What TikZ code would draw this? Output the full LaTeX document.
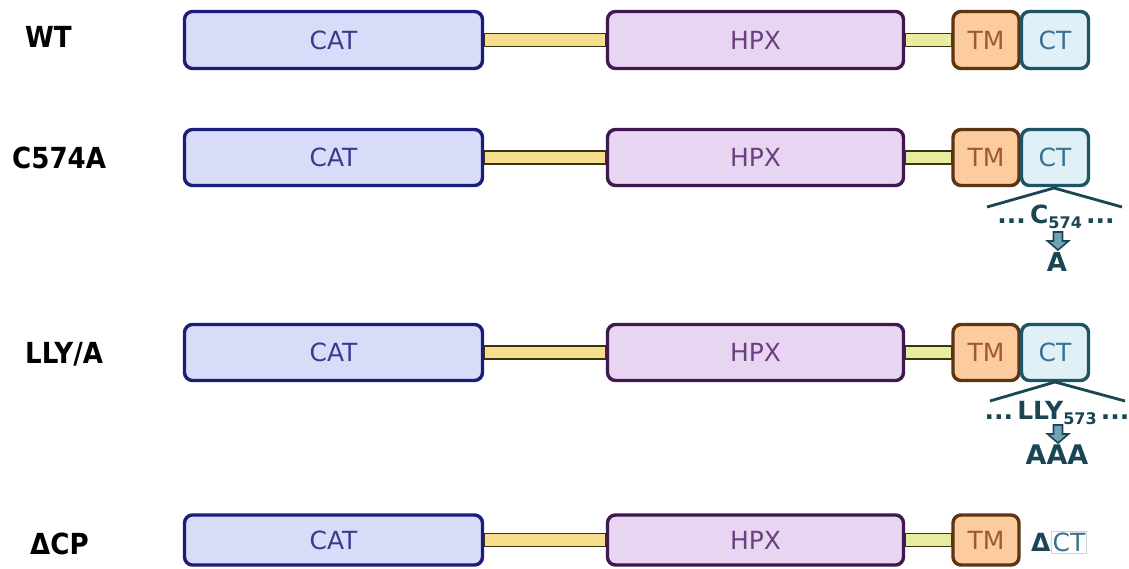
\documentclass[tikz,border=0pt]{standalone}
\usepackage{fontspec}
\setmainfont{DejaVu Sans}
\newfontfamily\lblfont[FakeStretch=0.9]{DejaVu Sans}
\usetikzlibrary{backgrounds}

\definecolor{catfill}{HTML}{D9DCF8}
\definecolor{catline}{HTML}{1C1C7A}
\definecolor{cattext}{HTML}{3B3B8C}
\definecolor{hpxfill}{HTML}{E8D5F2}
\definecolor{hpxline}{HTML}{40184F}
\definecolor{hpxtext}{HTML}{6B3F80}
\definecolor{tmfill}{HTML}{FCCB9E}
\definecolor{tmline}{HTML}{5E3510}
\definecolor{tmtext}{HTML}{9E5A2E}
\definecolor{ctfill}{HTML}{DFF0F7}
\definecolor{ctline}{HTML}{1E5566}
\definecolor{cttext}{HTML}{3C7190}
\definecolor{linkA}{HTML}{F6DE8C}
\definecolor{linkB}{HTML}{E9EC9E}
\definecolor{linkline}{HTML}{3A3312}
\definecolor{annot}{HTML}{1A4552}
\definecolor{arrowfill}{HTML}{6FA3B8}

\tikzset{
  dombox/.style={draw, line width=3.4pt, rounded corners=8pt, inner sep=0pt,
    font=\fontsize{25}{25}\selectfont},
  catbox/.style={dombox, draw=catline, fill=catfill, text=cattext, minimum width=298pt},
  hpxbox/.style={dombox, draw=hpxline, fill=hpxfill, text=hpxtext, minimum width=296pt},
  tmbox/.style={dombox, draw=tmline, fill=tmfill, text=tmtext, minimum width=66pt},
  ctbox/.style={dombox, draw=ctline, fill=ctfill, text=cttext, minimum width=67pt},
  linkerA/.style={draw=linkline, line width=1.6pt, fill=linkA},
  linkerB/.style={draw=linkline, line width=1.6pt, fill=linkB},
  rowlabel/.style={anchor=west, inner sep=0pt, font=\lblfont\bfseries\fontsize{29}{29}\selectfont},
  wedge/.style={draw=annot, line width=2.8pt},
  mutlabel/.style={inner sep=0pt, text=annot, font=\bfseries\fontsize{25}{25}\selectfont},
  downarrow/.style={draw=annot, fill=arrowfill, line width=1.6pt, line join=miter}
}
% hollow block arrow pointing down, centred on the given coordinate
\newcommand\blockarrow[1]{%
  \draw[downarrow] ([shift={(-4.5,-9)}]#1) -- ([shift={(4.5,-9)}]#1) -- ([shift={(4.5,0)}]#1)
    -- ([shift={(10.5,0)}]#1) -- ([shift={(0,9)}]#1) -- ([shift={(-10.5,0)}]#1)
    -- ([shift={(-4.5,0)}]#1) -- cycle;}

\begin{document}
\begin{tikzpicture}[x=1pt, y=-1pt]
\useasboundingbox (0,0) rectangle (1129,568);

% domain rows: index / vertical centre / box height
\foreach \r/\yc/\h in {1/40/57, 2/157.5/56, 3/352.5/56, 4/540/50} {
  \node[catbox, minimum height=\h pt] (cat\r) at (333.5,\yc) {CAT};
  \node[hpxbox, minimum height=\h pt] (hpx\r) at (755.5,\yc) {HPX};
  \node[tmbox, minimum height=\h pt] (tm\r) at (986,\yc) {TM};
}
\foreach \r/\yc/\h in {1/40/57, 2/157.5/56, 3/352.5/56} {
  \node[ctbox, minimum height=\h pt] (ct\r) at (1055,\yc) {CT};
}

% linkers run behind the domains
\begin{scope}[on background layer]
  \fill[white] (0,0) rectangle (1129,568);
  \foreach \r in {1,2,3,4} {
    \draw[linkerA] ([yshift=-6.5pt]cat\r.east) rectangle ([yshift=6.5pt]hpx\r.west);
    \draw[linkerB] ([yshift=-6.5pt]hpx\r.east) rectangle ([yshift=6.5pt]tm\r.west);
  }
\end{scope}

% construct names
\node[rowlabel] (lwt)  at (25,37)    {WT};
\node[rowlabel] (lc)   at (12,158)   {C574A};
\node[rowlabel] (llly) at (25,354)   {LLY/A};
\node[rowlabel] (ldcp) at (30,544)   {ΔCP};

% C574A point mutation
\coordinate (apex2) at (1054,188);
\coordinate (wl2) at (987,207);
\coordinate (wr2) at (1122,207);
\draw[wedge] (wl2) -- (apex2) -- (wr2);
\node[mutlabel] (m2) at (1056,217) {...\,C\raisebox{-0.4ex}{\fontsize{16}{16}\selectfont 574}\,...};
\coordinate (a2) at (1058,241);
\blockarrow{a2}
\node[mutlabel, font=\bfseries\fontsize{26}{26}\selectfont] (r2) at (1057,262) {A};

% LLY/A triple mutation
\coordinate (apex3) at (1055,382);
\coordinate (wl3) at (990,401);
\coordinate (wr3) at (1125,401);
\draw[wedge] (wl3) -- (apex3) -- (wr3);
\node[mutlabel] (m3) at (1057,413) {...\,LLY\raisebox{-0.4ex}{\fontsize{16}{16}\selectfont 573}\,...};
\coordinate (a3) at (1058,434);
\blockarrow{a3}
\node[mutlabel, font=\bfseries\fontsize{27}{27}\selectfont] (r3) at (1057,455) {AAA};

% truncated C-terminal tail
\node[inner sep=0pt, text=annot, font=\bfseries\fontsize{25}{25}\selectfont, anchor=west] (dlt) at (1031,542) {Δ};
\node[inner sep=1.5pt, draw=ctline!25, line width=0.8pt, text=cttext, fill=white,
      font=\fontsize{25}{25}\selectfont, anchor=west] (dct) at (dlt.east) {CT};
\end{tikzpicture}
\end{document}
